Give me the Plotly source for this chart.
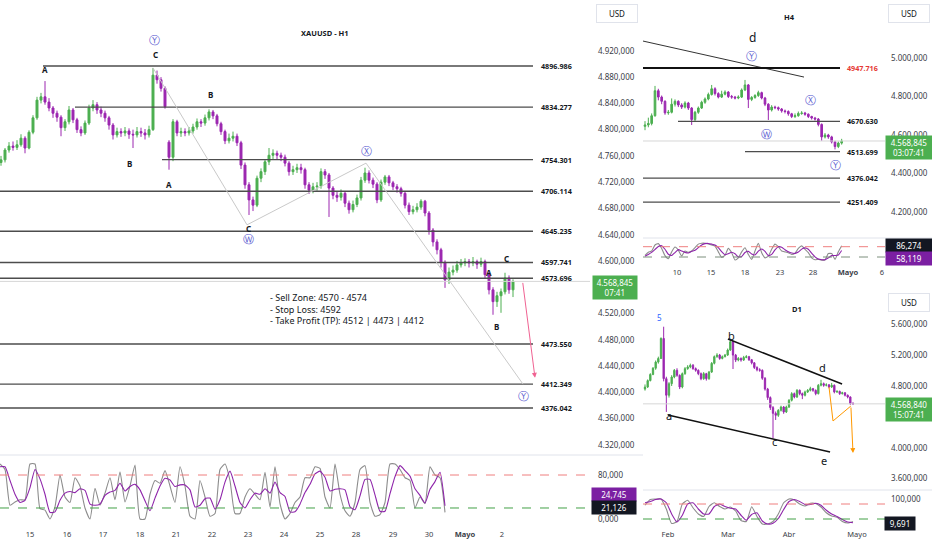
import plotly.graph_objects as go

# ---------------- H1 (gráfico principal) ----------------
h1_first_open = 4750
h1_gap_bar = 42          # barra tras el fin de semana
h1_gap_open = 4781
h1_close = [4754, 4769, 4775, 4773, 4777, 4787, 4772, 4796, 4818, 4845,
            4850, 4842, 4833, 4825, 4819, 4803, 4812, 4830, 4815, 4800,
            4795, 4810, 4833, 4838, 4830, 4825, 4818, 4807, 4792, 4797,
            4795, 4798, 4793, 4792, 4797, 4795, 4792, 4800, 4883, 4876,
            4863, 4835, 4758, 4812, 4795, 4797, 4795, 4798, 4804, 4812,
            4810, 4818, 4827, 4821, 4809, 4797, 4783, 4787, 4790, 4780,
            4746, 4716, 4693, 4685, 4726, 4736, 4751, 4761, 4764, 4761,
            4758, 4749, 4736, 4739, 4742, 4739, 4716, 4708, 4713, 4714,
            4736, 4731, 4711, 4700, 4697, 4703, 4688, 4678, 4686, 4696,
            4723, 4734, 4723, 4717, 4693, 4720, 4728, 4719, 4713, 4710,
            4703, 4685, 4675, 4678, 4682, 4691, 4673, 4647, 4629, 4617,
            4598, 4571, 4583, 4586, 4594, 4597, 4599, 4597, 4599, 4595,
            4599, 4579, 4556, 4538, 4547, 4553, 4574, 4556, 4568.845]
h1_high = [4760, 4772, 4781, 4782, 4784, 4793, 4790, 4799, 4822, 4850,
           4856, 4874, 4848, 4836, 4829, 4822, 4816, 4836, 4833, 4818,
           4805, 4814, 4838, 4845, 4842, 4835, 4829, 4821, 4810, 4803,
           4802, 4804, 4802, 4800, 4804, 4803, 4801, 4806, 4894, 4890,
           4880, 4866, 4784, 4816, 4815, 4803, 4802, 4804, 4809, 4817,
           4816, 4823, 4831, 4830, 4824, 4812, 4800, 4794, 4797, 4794,
           4783, 4750, 4720, 4698, 4730, 4741, 4755, 4772, 4770, 4768,
           4765, 4762, 4752, 4745, 4748, 4748, 4742, 4720, 4719, 4720,
           4741, 4740, 4734, 4714, 4705, 4709, 4706, 4692, 4692, 4701,
           4728, 4742, 4738, 4727, 4720, 4724, 4731, 4731, 4722, 4717,
           4713, 4706, 4689, 4684, 4688, 4694, 4693, 4676, 4650, 4633,
           4620, 4601, 4590, 4593, 4600, 4603, 4604, 4603, 4606, 4602,
           4605, 4602, 4583, 4560, 4553, 4558, 4582, 4578, 4572]
h1_low = [4745, 4750, 4765, 4768, 4769, 4774, 4764, 4770, 4793, 4815,
          4840, 4838, 4828, 4818, 4812, 4790, 4798, 4808, 4810, 4795,
          4790, 4792, 4807, 4828, 4824, 4819, 4812, 4800, 4785, 4788,
          4789, 4790, 4786, 4772, 4788, 4789, 4785, 4788, 4798, 4870,
          4858, 4832, 4739, 4752, 4790, 4789, 4790, 4791, 4794, 4800,
          4804, 4806, 4814, 4816, 4805, 4792, 4778, 4779, 4782, 4775,
          4740, 4710, 4670, 4676, 4682, 4720, 4731, 4746, 4755, 4755,
          4752, 4744, 4730, 4731, 4734, 4733, 4710, 4702, 4703, 4707,
          4710, 4725, 4667, 4694, 4690, 4692, 4682, 4672, 4674, 4682,
          4692, 4719, 4718, 4711, 4688, 4690, 4716, 4714, 4708, 4704,
          4698, 4680, 4670, 4671, 4674, 4678, 4668, 4640, 4622, 4610,
          4590, 4559, 4565, 4578, 4582, 4590, 4592, 4590, 4592, 4588,
          4591, 4574, 4549, 4518, 4530, 4521, 4549, 4550, 4545]
h1_levels = [4896.986, 4834.277, 4754.301, 4706.114, 4645.235,
             4597.741, 4573.696, 4473.550, 4412.349, 4376.042]
h1_last = 4568.845
h1_days = ["15", "16", "17", "18", "21", "22", "23", "24", "25",
           "28", "29", "30", "<b>Mayo</b>", "2"]
h1_stoch_k = [100, 90, 25, 31, 35, 35, 100, 100, 19, 16,
              0, 22, 80, 40, 30, 75, 60, 20, 0, 56,
              25, 47, 75, 35, 86, 31, 60, 98, 0, 0,
              45, 70, 65, 88, 60, 30, 95, 60, 5, 0,
              70, 40, 5, 10, 90, 100, 70, 10, 10, 40,
              55, 45, 35, 85, 22, 95, 28, 0, 10, 30,
              40, 75, 75, 95, 92, 40, 20, 100, 45, 15,
              5, 30, 90, 97, 30, 5, 8, 30, 100, 100,
              90, 75, 70, 20, 40, 28, 95, 80, 75, 12]
h1_stoch_d = [95, 95, 70, 45, 30, 34, 57, 90, 73, 45,
              12, 13, 34, 47, 50, 48, 55, 52, 27, 25,
              27, 43, 49, 52, 65, 51, 59, 63, 53, 33,
              15, 38, 60, 74, 71, 59, 62, 62, 53, 22,
              25, 37, 38, 18, 35, 67, 87, 60, 30, 20,
              35, 47, 45, 55, 47, 67, 48, 41, 13, 13,
              27, 48, 63, 82, 87, 76, 51, 54, 55, 53,
              22, 17, 42, 72, 72, 44, 14, 14, 46, 77,
              97, 88, 78, 55, 43, 29, 54, 68, 85, 24]
h1_stoch_last = [24.745, 21.126]
h1_plan = ["- Sell Zone: 4570 - 4574", "- Stop Loss: 4592",
           "- Take Profit (TP): 4512 | 4473 | 4412"]

# ---------------- H4 ----------------
h4_first_open = 4645
h4_close = [4652, 4660, 4700, 4830, 4797, 4775, 4715, 4718, 4760, 4775,
            4756, 4745, 4766, 4740, 4680, 4718, 4740, 4770, 4787, 4810,
            4840, 4815, 4797, 4812, 4823, 4800, 4797, 4792, 4797, 4834,
            4860, 4785, 4795, 4805, 4820, 4792, 4760, 4730, 4745, 4742,
            4735, 4725, 4722, 4710, 4696, 4700, 4712, 4714, 4708, 4696,
            4688, 4683, 4655, 4590, 4600, 4590, 4564, 4540, 4558, 4568.845]
h4_high = [4672, 4690, 4712, 4855, 4840, 4805, 4780, 4730, 4790, 4785,
           4780, 4765, 4775, 4772, 4745, 4725, 4748, 4778, 4795, 4820,
           4860, 4848, 4822, 4830, 4832, 4828, 4808, 4803, 4806, 4842,
           4886, 4865, 4802, 4812, 4830, 4825, 4798, 4765, 4755, 4752,
           4748, 4740, 4732, 4728, 4715, 4712, 4722, 4724, 4720, 4712,
           4700, 4694, 4688, 4660, 4610, 4606, 4596, 4570, 4566, 4580]
h4_low = [4625, 4640, 4650, 4695, 4780, 4760, 4705, 4705, 4712, 4748,
          4745, 4735, 4738, 4730, 4652, 4672, 4710, 4735, 4762, 4780,
          4805, 4805, 4790, 4792, 4806, 4792, 4788, 4785, 4786, 4792,
          4828, 4740, 4776, 4788, 4798, 4785, 4750, 4678, 4722, 4734,
          4726, 4716, 4712, 4700, 4688, 4688, 4695, 4705, 4700, 4688,
          4680, 4675, 4645, 4570, 4582, 4580, 4556, 4525, 4532, 4550]
h4_levels = [4947.716, 4670.630, 4513.699, 4376.042, 4251.409]
h4_days = ["10", "15", "18", "23", "28", "<b>Mayo</b>", "6"]
h4_stoch_k = [30, 48, 55, 90, 98, 70, 28, 10, 50, 78,
              60, 26, 55, 48, 55, 74, 95, 100, 100, 96,
              90, 84, 50, 18, 30, 70, 45, 3, 15, 50,
              74, 35, 6, 55, 100, 45, 15, 25, 65, 95,
              80, 55, 50, 45, 35, 42, 70, 85, 65, 45,
              15, 4, 6, 2, 3, 40, 40, 6, 50, 86]
h4_stoch_d = [25, 35, 47, 64, 81, 86, 65, 36, 29, 46,
              63, 55, 47, 43, 53, 59, 75, 90, 98, 99,
              95, 90, 75, 51, 33, 39, 48, 39, 21, 23,
              46, 53, 38, 32, 54, 67, 53, 28, 35, 62,
              80, 77, 62, 50, 43, 41, 49, 66, 73, 65,
              42, 21, 8, 4, 4, 15, 28, 29, 32, 58]
h4_stoch_last = [86.274, 58.119]

# ---------------- D1 ----------------
d1_first_open = 4760
d1_close = [4787, 4870, 4950, 5030, 5110, 5157, 5416, 4895, 4680, 4830,
            4917, 5003, 4938, 4787, 4960, 5025, 5047, 5068, 5025, 5003,
            4960, 4895, 4960, 4895, 4981, 5094, 5180, 5201, 5157, 5180,
            5201, 5266, 5374, 5200, 5136, 5157, 5136, 5170, 5180, 5140,
            5100, 5040, 5010, 5003, 4900, 4760, 4650, 4520, 4446, 4420,
            4485, 4528, 4464, 4528, 4615, 4701, 4658, 4744, 4701, 4680,
            4723, 4744, 4766, 4744, 4701, 4809, 4830, 4809, 4815, 4787,
            4809, 4723, 4730, 4701, 4712, 4680, 4658, 4572, 4568.84]
d1_high = [4820, 4885, 4965, 5045, 5130, 5180, 5430, 5568, 4920, 4850,
           4940, 5020, 5030, 4950, 4975, 5045, 5070, 5090, 5085, 5040,
           5015, 4975, 4980, 4970, 4995, 5110, 5195, 5225, 5215, 5195,
           5215, 5285, 5400, 5385, 5215, 5175, 5170, 5190, 5200, 5190,
           5150, 5110, 5055, 5030, 5015, 4915, 4775, 4665, 4540, 4470,
           4500, 4545, 4540, 4545, 4630, 4720, 4715, 4760, 4755, 4715,
           4740, 4760, 4790, 4775, 4755, 4825, 4880, 4845, 4835, 4825,
           4840, 4820, 4745, 4740, 4725, 4720, 4690, 4665, 4590]
d1_low = [4740, 4775, 4860, 4940, 5010, 5090, 5150, 4860, 4464, 4650,
          4800, 4900, 4920, 4760, 4770, 4945, 5010, 5030, 5010, 4985,
          4940, 4875, 4880, 4870, 4880, 4970, 5080, 5165, 5140, 5145,
          5170, 5190, 5255, 5020, 5110, 5120, 5115, 5125, 5160, 5125,
          5080, 5020, 4990, 4985, 4880, 4740, 4620, 4490, 4122, 4360,
          4400, 4470, 4440, 4450, 4515, 4600, 4640, 4645, 4680, 4630,
          4665, 4710, 4730, 4725, 4680, 4690, 4795, 4790, 4795, 4770,
          4775, 4705, 4710, 4685, 4690, 4665, 4640, 4555, 4560]
d1_months = ["Feb", "Mar", "Abr", "Mayo"]
d1_stoch_k = [75, 98, 100, 100, 60, 2, 10, 80, 95, 65,
              40, 30, 70, 85, 70, 60, 68, 52, 14, 10,
              69, 30, 0, 0, 10, 40, 85, 100, 96, 80,
              72, 83, 82, 68, 45, 32, 27, 10, 4, 10]
d1_stoch_d = [85, 90, 98, 100, 85, 40, 8, 35, 80, 85,
              60, 40, 40, 70, 80, 70, 63, 60, 35, 15,
              38, 45, 12, 0, 3, 22, 58, 90, 98, 90,
              78, 78, 83, 75, 55, 40, 30, 18, 8, 5]
d1_last = 4568.84
d1_stoch_last = 9.691

UP = "#4caf50"
DN = "#9c27b0"
TXT = "#131722"
AXT = "#3a3d47"
CIRC = "#5b5bd0"
W, H = 932, 550


def es(v, d=3):
    return f"{v:,.{d}f}".replace(",", "X").replace(".", ",").replace("X", ".")


def opens(first, closes):
    return [first] + closes[:-1]


h1_open = opens(h1_first_open, h1_close)
h1_open[h1_gap_bar] = h1_gap_open
h4_open = opens(h4_first_open, h4_close)
d1_open = opens(d1_first_open, d1_close)


def candles(o, h, l, c, xa, ya):
    return go.Candlestick(
        x=list(range(len(c))), open=o, high=h, low=l, close=c,
        xaxis=xa, yaxis=ya, hoverinfo="skip", showlegend=False,
        increasing=dict(line=dict(color=UP, width=1), fillcolor=UP),
        decreasing=dict(line=dict(color=DN, width=1), fillcolor=DN))


def line(x, y, xa, ya, color, width=1.1):
    return go.Scatter(x=x, y=y, mode="lines", xaxis=xa, yaxis=ya, hoverinfo="skip",
                      showlegend=False, line=dict(color=color, width=width, shape="spline", smoothing=0.5))


fig = go.Figure()
fig.add_trace(candles(h1_open, h1_high, h1_low, h1_close, "x", "y"))
fig.add_trace(line(list(range(len(h1_stoch_k))), h1_stoch_k, "x2", "y2", "#8c8c8c"))
fig.add_trace(line(list(range(len(h1_stoch_d))), h1_stoch_d, "x2", "y2", "#8e24aa"))
fig.add_trace(candles(h4_open, h4_high, h4_low, h4_close, "x3", "y3"))
fig.add_trace(line(list(range(len(h4_stoch_k))), h4_stoch_k, "x4", "y4", "#8c8c8c"))
fig.add_trace(line(list(range(len(h4_stoch_d))), h4_stoch_d, "x4", "y4", "#8e24aa"))
fig.add_trace(candles(d1_open, d1_high, d1_low, d1_close, "x5", "y5"))
d1_sx = [2 * i for i in range(len(d1_stoch_k))]
fig.add_trace(line(d1_sx, d1_stoch_k, "x6", "y6", "#8c8c8c"))
fig.add_trace(line(d1_sx, d1_stoch_d, "x6", "y6", "#8e24aa"))


def axis(domain, rng, anchor, size=8, **kw):
    d = dict(domain=domain, range=rng, anchor=anchor, showgrid=False, zeroline=False,
             showline=False, ticks="", fixedrange=True,
             tickfont=dict(size=size, color=AXT, family="Noto Sans"))
    d.update(kw)
    return d


main_dom = [0, 590 / W]
ins_dom = [643 / W, 885 / W]
py = lambda p: 1 - p / H

# etiquetas de precio (las que tapa la etiqueta del último precio no se ven)
h1_ticks = [v for v in range(4320, 4921, 40) if v != 4560]
h4_ticks = list(range(4200, 5001, 200))
d1_ticks = [3600, 4000, 4800, 5200, 5600]

fig.update_layout(
    width=W, height=H, margin=dict(l=0, r=0, t=0, b=0),
    paper_bgcolor="white", plot_bgcolor="white", hovermode=False,
    font=dict(family="Noto Sans", color=TXT),
    xaxis=axis(main_dom, [-0.25, 147.25], "y", showticklabels=False, rangeslider=dict(visible=False)),
    yaxis=axis([py(455), 1], [4304.4, 4997.5], "x", side="right", ticklabelstandoff=7,
               tickvals=h1_ticks, ticktext=[es(v) for v in h1_ticks]),
    xaxis2=axis(main_dom, [0, 118], "y2", size=7.5,
                tickvals=[6, 13.4, 20.6, 28, 35.2, 42.4, 49.6, 56.8, 64, 71.2, 78.6, 85.8, 93, 100.4],
                ticktext=h1_days),
    yaxis2=axis([py(528), py(455)], [-16.4, 116.4], "x2", side="right", ticklabelstandoff=7,
                tickvals=[0, 80], ticktext=["0,000", "80,000"]),
    xaxis3=axis(ins_dom, [-0.6, 72], "y3", showticklabels=False, rangeslider=dict(visible=False)),
    yaxis3=axis([py(238), py(25)], [4064.9, 5171.4], "x3", side="right", ticklabelstandoff=5,
                tickvals=h4_ticks, ticktext=[es(v) for v in h4_ticks]),
    xaxis4=axis(ins_dom, [-0.6, 72], "y4", size=7.5,
                tickvals=[9.6, 19.8, 30, 40.5, 50.4, 60.9, 71.1], ticktext=h4_days),
    yaxis4=axis([py(266), py(238)], [-32.4, 130.7], "x4", side="right", showticklabels=False),
    xaxis5=axis(ins_dom, [-0.75, 90], "y5", showticklabels=False, rangeslider=dict(visible=False)),
    yaxis5=axis([py(488), py(290)], [3478.8, 6043.5], "x5", side="right", ticklabelstandoff=5,
                tickvals=d1_ticks, ticktext=[es(v) for v in d1_ticks]),
    xaxis6=axis(ins_dom, [-0.75, 90], "y6", size=7.5,
                tickvals=[8.6, 31.1, 54, 79.5], ticktext=d1_months),
    yaxis6=axis([py(528), py(490)], [-16, 136], "x6", side="right", ticklabelstandoff=5,
                tickvals=[100], ticktext=["100,000"]),
)

shapes = []
ann = []


def seg(x0, y0, x1, y1, xr, yr, color, width=1, dash="solid"):
    shapes.append(dict(type="line", x0=x0, y0=y0, x1=x1, y1=y1, xref=xr, yref=yr,
                       line=dict(color=color, width=width, dash=dash), layer="above"))


def text(x, y, s, xr, yr, size=8, color=TXT, family="Noto Sans", xanchor="center", **kw):
    ann.append(dict(x=x, y=y, text=s, xref=xr, yref=yr, showarrow=False, xanchor=xanchor,
                    yanchor="middle", font=dict(size=size, color=color, family=family), **kw))


def badge(cx, cy, s, bg, w=42):
    ann.append(dict(x=cx / W, y=py(cy), text=s, xref="paper", yref="paper", showarrow=False,
                    xanchor="center", yanchor="middle",
                    bgcolor=bg, width=w, borderpad=1, align="center",
                    font=dict(size=8, color="white", family="Noto Sans")))


def dec(v):
    return f"{v:.3f}".replace(".", ",")


# separadores
seg(0, py(455), 643 / W, py(455), "paper", "paper", "#e0e3eb")
seg(643 / W, py(238), 1, py(238), "paper", "paper", "#e0e3eb")
seg(643 / W, py(490), 1, py(490), "paper", "paper", "#e0e3eb")

# ---- dibujos H1 ----
seg(0, h1_last, 1, h1_last, "x domain", "y", "#d6d6d6")
h1_starts = {0: 10.5, 1: 18.5, 2: 40.25}
for i, lv in enumerate(h1_levels):
    seg(h1_starts.get(i, -0.25), lv, 133, lv, "x", "y", "#4d4d4d", 1.4)
    text(134.5, lv, f"<b>{lv:.3f}</b>", "x", "y", size=7.2, xanchor="left")

# trayectoria W-X-Y
wave = [(38, h1_high[38]), (61.5, 4655), (91.25, 4749), (130.5, h1_levels[8])]
for (xa, ya), (xb, yb) in zip(wave[:-1], wave[1:]):
    seg(xa, ya, xb, yb, "x", "y", "#c9c9c9", 1)

ann.append(dict(x=133.5, y=4422, ax=130.4, ay=h1_last, xref="x", yref="y", axref="x", ayref="y",
                showarrow=True, arrowhead=2, arrowsize=1, arrowwidth=1, arrowcolor="#f06292", text=""))

for s, x, y in [("A", 11, 4891), ("C", 38.5, 4915), ("B", 52.25, 4853), ("B", 32, 4749),
                ("A", 42, 4717), ("C", 61.75, 4650), ("A", 122, 4583), ("C", 126.25, 4603),
                ("B", 123.75, 4500)]:
    text(x, y, f"<b>{s}</b>", "x", "y", size=8)
for s, x, y in [("Ⓨ", 38.25, 4936), ("Ⓦ", 61.75, 4632), ("Ⓧ", 91.25, 4767), ("Ⓨ", 130.5, 4393)]:
    text(x, y, s, "x", "y", size=11, color=CIRC, family="DejaVu Sans")

text(66.75, 4527, "<br>".join(h1_plan), "x", "y", size=9, xanchor="left", align="left")

text(325 / W, py(33), "<b>XAUUSD - H1</b>", "paper", "paper", size=7.5)

seg(0, 80, 1, 80, "x2 domain", "y2", "#ef7f7f", 1, "dash")
seg(0, 20, 1, 20, "x2 domain", "y2", "#43a047", 1, "dash")

# ---- dibujos H4 ----
seg(0, h1_last, 1, h1_last, "x3 domain", "y3", "#d6d6d6")
seg(-0.6, 5088, 47.7, 4901, "x3", "y3", "#333333", 1)
h4_starts = [-0.6, 9.9, 30, -0.6, -0.6]
for lv, x0 in zip(h4_levels, h4_starts):
    top = lv == h4_levels[0]
    seg(x0, lv, 58.5, lv, "x3", "y3", "#111111" if top else "#4d4d4d", 2 if top else 1.2)
    text(60, lv, f"<b>{lv:.3f}</b>", "x3", "y3", size=7.2, xanchor="left",
         color="#e53935" if top else TXT)
text(32.1, 5109, "d", "x3", "y3", size=12)
for s, x, y in [("Ⓨ", 31.8, 5010), ("Ⓧ", 49.5, 4777), ("Ⓦ", 36.3, 4605), ("Ⓨ", 57, 4439)]:
    text(x, y, s, "x3", "y3", size=11, color=CIRC, family="DejaVu Sans")
text(789 / W, py(17), "<b>H4</b>", "paper", "paper", size=7.5)
seg(0, 80, 1, 80, "x4 domain", "y4", "#ef7f7f", 1, "dash")
seg(0, 20, 1, 20, "x4 domain", "y4", "#7d8f7d", 1, "dash")

# ---- dibujos D1 ----
seg(0, d1_last, 1, d1_last, "x5 domain", "y5", "#d6d6d6")
seg(31.1, 5409, 73.9, 4826, "x5", "y5", "#111111", 1.5)
seg(8.6, 4424, 69.4, 3945, "x5", "y5", "#111111", 1.5)
seg(69, 4787, 70.5, 4347, "x5", "y5", "#ff9800", 1)
seg(70.5, 4347, 77.2, 4541, "x5", "y5", "#ff9800", 1)
ann.append(dict(x=78, y=3932, ax=77.2, ay=4541, xref="x5", yref="y5", axref="x5", ayref="y5",
                showarrow=True, arrowhead=2, arrowsize=1, arrowwidth=1, arrowcolor="#ff9800", text=""))
text(5.6, 5681, "5", "x5", "y5", size=8, color="#2962ff")
for s, x, y in [("b", 32.6, 5448), ("a", 9, 4424), ("c", 48.4, 4075), ("d", 66.4, 5046), ("e", 67.1, 3841)]:
    text(x, y, s, "x5", "y5", size=11)
text(797 / W, py(309), "<b>D1</b>", "paper", "paper", size=7.5)
seg(0, 80, 1, 80, "x6 domain", "y6", "#ef7f7f", 1, "dash")
seg(0, 20, 1, 20, "x6 domain", "y6", "#43a047", 1, "dash")

# ---- etiquetas / badges ----
for cx, cy in [(617, 13), (909, 13), (909, 302)]:
    ann.append(dict(x=cx / W, y=py(cy), text="USD", xref="paper", yref="paper", showarrow=False,
                    xanchor="center", yanchor="middle",
                    bgcolor="white", bordercolor="#e0e3eb", borderwidth=1, borderpad=3, width=34,
                    font=dict(size=8, color=TXT, family="Noto Sans")))
badge(615, 287, es(h1_last) + "<br>07:41", UP)
badge(614, 494, dec(h1_stoch_last[0]), "#7b1fa2")
badge(614, 507, dec(h1_stoch_last[1]), "#131722")
badge(909, 147, es(h1_last) + "<br>03:07:41", UP, 44)
badge(909, 245, dec(h4_stoch_last[0]), "#131722", 44)
badge(909, 258, dec(h4_stoch_last[1]), "#7b1fa2", 44)
badge(909, 409, es(d1_last) + "<br>15:07:41", UP, 44)
badge(900, 523, dec(d1_stoch_last), "#131722", 28)

fig.update_layout(shapes=shapes, annotations=ann)
fig.write_html("out.html", config={"displayModeBar": False},
               post_script="document.body.style.margin='0';")
